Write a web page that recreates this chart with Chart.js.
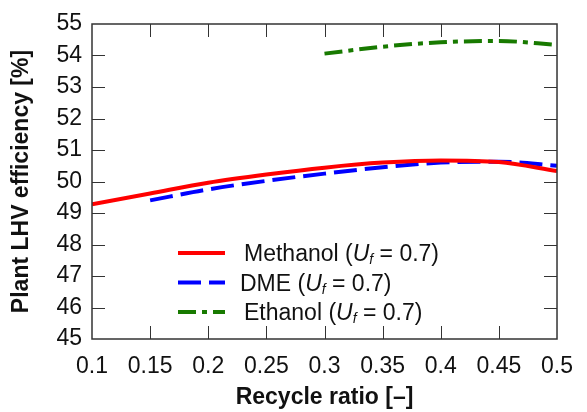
<!DOCTYPE html>
<html lang="en">
<head>
<meta charset="UTF-8">
<title>Plant LHV efficiency vs recycle ratio</title>
<script src="https://cdn.jsdelivr.net/npm/chart.js"></script>
<style>
  html, body { margin: 0; padding: 0; background: #fff; }
</style>
</head>
<body>
<canvas id="effChart" width="587" height="412"></canvas>
<script>
// values, every 0.05 of recycle ratio
const methanolX = [0.1, 0.15, 0.2, 0.25, 0.3, 0.35, 0.4, 0.45, 0.5];
const methanolY = [49.28, 49.62, 49.96, 50.22, 50.44, 50.6, 50.67, 50.62, 50.33];
const dmeX = [0.15, 0.2, 0.25, 0.3, 0.35, 0.4, 0.45, 0.5];
const dmeY = [49.4, 49.75, 50.02, 50.25, 50.45, 50.6, 50.63, 50.5];
const ethanolX = [0.3, 0.35, 0.4, 0.45, 0.5];
const ethanolY = [54.06, 54.28, 54.42, 54.46, 54.34];
const seriesNames = ['Methanol', 'DME', 'Ethanol'];
const fuelUtil = 0.7;

const xTicks = [0.1, 0.15, 0.2, 0.25, 0.3, 0.35, 0.4, 0.45, 0.5];
const xTickLabels = ['0.1', '0.15', '0.2', '0.25', '0.3', '0.35', '0.4', '0.45', '0.5'];
const yTicks = [45, 46, 47, 48, 49, 50, 51, 52, 53, 54, 55];

const FAM = "Arial, 'Liberation Sans', sans-serif";
Chart.defaults.font.family = FAM;
Chart.defaults.color = '#111';

const colors = ['#ff0000', '#0000ff', '#187a00'];
const dashes = [[], [23, 8], [18, 6, 5, 6]];

function pts(xs, ys) {
    return xs.map((x, i) => ({ x: x, y: ys[i] }));
}

// frame on all four sides with inward ticks
const framePlugin = {
    id: 'frame',
    afterDatasetsDraw(chart) {
        const ctx = chart.ctx;
        const a = chart.chartArea;
        const xs = chart.scales.x, ys = chart.scales.y;
        const len = 13;
        ctx.save();
        ctx.strokeStyle = '#333';
        ctx.lineWidth = 1;
        ctx.beginPath();
        xTicks.forEach(v => {
            const px = Math.round(xs.getPixelForValue(v)) + 0.5;
            if (px <= a.left + 1 || px >= a.right - 1) return;
            ctx.moveTo(px, a.bottom); ctx.lineTo(px, a.bottom - len);
            ctx.moveTo(px, a.top); ctx.lineTo(px, a.top + len);
        });
        yTicks.forEach(v => {
            const py = Math.round(ys.getPixelForValue(v)) + 0.5;
            if (py <= a.top + 1 || py >= a.bottom - 1) return;
            ctx.moveTo(a.left, py); ctx.lineTo(a.left + len, py);
            ctx.moveTo(a.right, py); ctx.lineTo(a.right - len, py);
        });
        ctx.stroke();
        ctx.lineWidth = 1.5;
        ctx.strokeRect(a.left, a.top, a.right - a.left, a.bottom - a.top);
        ctx.restore();
    }
};

// legend with italic U and subscript f
const legendPlugin = {
    id: 'richLegend',
    afterDraw(chart) {
        const ctx = chart.ctx;
        const rows = [253, 282.5, 312];
        const textX = [244, 240, 244];
        ctx.save();
        seriesNames.forEach((name, i) => {
            const y = rows[i];
            ctx.beginPath();
            ctx.strokeStyle = colors[i];
            ctx.lineWidth = 4;
            ctx.setLineDash(dashes[i]);
            ctx.moveTo(178, y);
            ctx.lineTo(225, y);
            ctx.stroke();
            ctx.setLineDash([]);

            const parts = [
                { t: name + ' (', f: '23px ' + FAM, dy: 0 },
                { t: 'U', f: 'italic 23px ' + FAM, dy: 0 },
                { t: 'f', f: 'italic 14px ' + FAM, dy: 3 },
                { t: ' = ' + fuelUtil.toFixed(1) + ')', f: '23px ' + FAM, dy: 0 }
            ];
            let x = textX[i];
            ctx.fillStyle = '#111';
            ctx.textBaseline = 'alphabetic';
            ctx.textAlign = 'left';
            parts.forEach(p => {
                ctx.font = p.f;
                ctx.fillText(p.t, x, y + 8 + p.dy);
                x += ctx.measureText(p.t).width;
            });
        });
        ctx.restore();
    }
};

const ds = [pts(methanolX, methanolY), pts(dmeX, dmeY), pts(ethanolX, ethanolY)];

new Chart(document.getElementById('effChart'), {
    type: 'line',
    data: {
        datasets: seriesNames.map((n, i) => ({
            label: n,
            data: ds[i],
            borderColor: colors[i],
            borderWidth: 4,
            borderDash: dashes[i],
            pointRadius: 0,
            fill: false,
            cubicInterpolationMode: 'monotone'
        }))
    },
    options: {
        responsive: false,
        animation: false,
        devicePixelRatio: 1,
        layout: { padding: { top: 24, right: 22, left: 0, bottom: 0 } },
        plugins: {
            legend: { display: false },
            tooltip: { enabled: false }
        },
        scales: {
            x: {
                type: 'linear',
                min: 0.1,
                max: 0.5,
                afterBuildTicks: s => { s.ticks = xTicks.map(v => ({ value: v })); },
                afterFit: s => { s.height = 73; },
                grid: { display: false, drawTicks: false },
                border: { display: false },
                ticks: {
                    padding: 14,
                    maxRotation: 0,
                    autoSkip: false,
                    font: { size: 23 },
                    callback: (v, i) => xTickLabels[i]
                },
                title: {
                    display: true,
                    text: 'Recycle ratio [–]',
                    font: { size: 23, weight: 'bold' },
                    padding: { top: 0, bottom: 1 }
                }
            },
            y: {
                min: 45,
                max: 55,
                afterBuildTicks: s => { s.ticks = yTicks.map(v => ({ value: v })); },
                afterFit: s => { s.width = 92; },
                grid: { display: false, drawTicks: false },
                border: { display: false },
                ticks: {
                    padding: 10,
                    font: { size: 23 },
                    callback: v => String(v)
                },
                title: {
                    display: true,
                    text: 'Plant LHV efficiency [%]',
                    font: { size: 23, weight: 'bold' },
                    padding: { top: 8, bottom: 0 }
                }
            }
        }
    },
    plugins: [framePlugin, legendPlugin]
});
</script>
</body>
</html>
